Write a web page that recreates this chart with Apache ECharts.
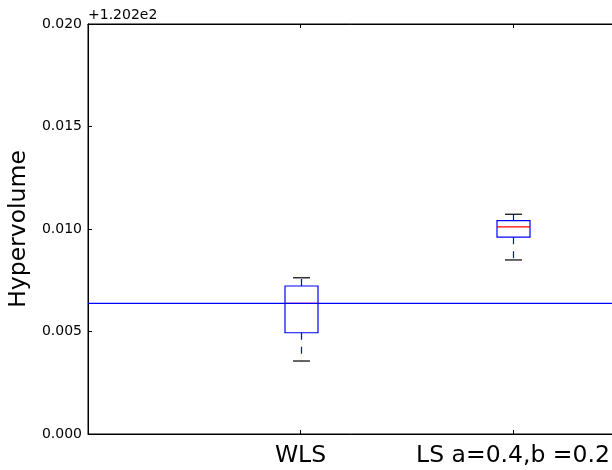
<!DOCTYPE html>
<html><head><meta charset="utf-8">
<script src="https://cdn.jsdelivr.net/npm/echarts@6/dist/echarts.min.js"></script>
<style>html,body{margin:0;padding:0;background:#fff}#c{width:612px;height:470px}</style>
</head><body><div id="c"></div>
<script>
// Data (values relative to the +1.202e2 offset)
const categories = ['WLS', 'LS a=0.4,b =0.2'];
const positions = [1, 2];
const whiskerLow = [0.00356, 0.00849];
const q1 = [0.00494, 0.00960];
const median = [0.00637, 0.01010];
const q3 = [0.00722, 0.01041];
const whiskerHigh = [0.00762, 0.01072];
const refLine = 0.00637;
const refLineX = [0, 3];
const offsetText = '+1.202e2';
const yTickStep = 0.005;
const yMin = 0, yMax = 0.020;

const boxData = positions.map((p, i) => [p, whiskerLow[i], q1[i], median[i], q3[i], whiskerHigh[i]]);
const refData = refLineX.map(x => [x, refLine]);

function renderItem(params, api) {
  const x = api.value(0);
  const lo = api.coord([x, api.value(1)]);
  const b1 = api.coord([x, api.value(2)]);
  const md = api.coord([x, api.value(3)]);
  const b3 = api.coord([x, api.value(4)]);
  const hi = api.coord([x, api.value(5)]);
  const cx = Math.round(lo[0]) + 0.5;
  const hw = 16.5, cw = 8.5;
  const blue = '#0000ff';
  return {
    type: 'group',
    children: [
      {type: 'line', shape: {x1: cx, y1: b1[1], x2: cx, y2: lo[1]}, style: {stroke: blue, lineWidth: 1.2, lineDash: [7, 7]}},
      {type: 'line', shape: {x1: cx, y1: b3[1], x2: cx, y2: hi[1]}, style: {stroke: blue, lineWidth: 1.2, lineDash: [7, 7]}},
      {type: 'line', shape: {x1: cx - cw, y1: lo[1], x2: cx + cw, y2: lo[1]}, style: {stroke: '#000', lineWidth: 1.2}},
      {type: 'line', shape: {x1: cx - cw, y1: hi[1], x2: cx + cw, y2: hi[1]}, style: {stroke: '#000', lineWidth: 1.2}},
      {type: 'rect', shape: {x: cx - hw, y: b3[1], width: 2 * hw, height: b1[1] - b3[1]}, style: {fill: 'none', stroke: blue, lineWidth: 1.2}},
      {type: 'line', shape: {x1: cx - hw, y1: md[1], x2: cx + hw, y2: md[1]}, style: {stroke: '#ff0000', lineWidth: 1.2}}
    ]
  };
}

const chart = echarts.init(document.getElementById('c'), null, {renderer: 'canvas'});
const axisLineStyle = {color: '#000', width: 1};
chart.setOption({
  animation: false,
  backgroundColor: '#fff',
  textStyle: {fontFamily: 'DejaVu Sans', color: '#000'},
  grid: {left: 88, top: 24, width: 637.5, height: 410, show: true, borderColor: '#000', borderWidth: 1,
         containLabel: false, outerBoundsMode: 'none'},
  graphic: [{
    type: 'text', left: 88, top: 8,
    style: {text: offsetText, fontSize: 14, fontFamily: 'DejaVu Sans', fill: '#000'}
  }],
  xAxis: [{
    type: 'value', min: 0, max: 3, interval: 1, position: 'bottom',
    axisLine: {lineStyle: axisLineStyle},
    axisTick: {inside: true, length: 4, lineStyle: axisLineStyle},
    splitLine: {show: false},
    axisLabel: {
      fontSize: 23.5, color: '#000', margin: 10, fontFamily: 'DejaVu Sans',
      formatter: v => { const i = positions.indexOf(v); return i >= 0 ? categories[i] : ''; }
    }
  }, {
    type: 'value', min: 0, max: 3, interval: 1, position: 'top',
    axisLine: {lineStyle: axisLineStyle},
    axisTick: {inside: true, length: 4, lineStyle: axisLineStyle},
    splitLine: {show: false},
    axisLabel: {show: false}
  }],
  yAxis: {
    type: 'value', min: yMin, max: yMax, interval: yTickStep,
    name: 'Hypervolume', nameLocation: 'middle', nameRotate: 90, nameGap: 53,
    nameTextStyle: {fontSize: 23.5, color: '#000', fontFamily: 'DejaVu Sans'},
    axisLine: {show: true, lineStyle: axisLineStyle},
    axisTick: {show: true, inside: true, length: 4, lineStyle: axisLineStyle},
    splitLine: {show: false},
    axisLabel: {fontSize: 14, color: '#000', margin: 6, formatter: v => v.toFixed(3)}
  },
  series: [{
    type: 'custom',
    renderItem: renderItem,
    data: boxData,
    encode: {x: 0, y: [1, 2, 3, 4, 5]},
    z: 2
  }, {
    type: 'line',
    data: refData,
    symbol: 'none',
    silent: true,
    z: 5,
    lineStyle: {color: '#0000ff', width: 1.2},
    itemStyle: {color: '#0000ff'}
  }]
});
</script>
</body></html>
